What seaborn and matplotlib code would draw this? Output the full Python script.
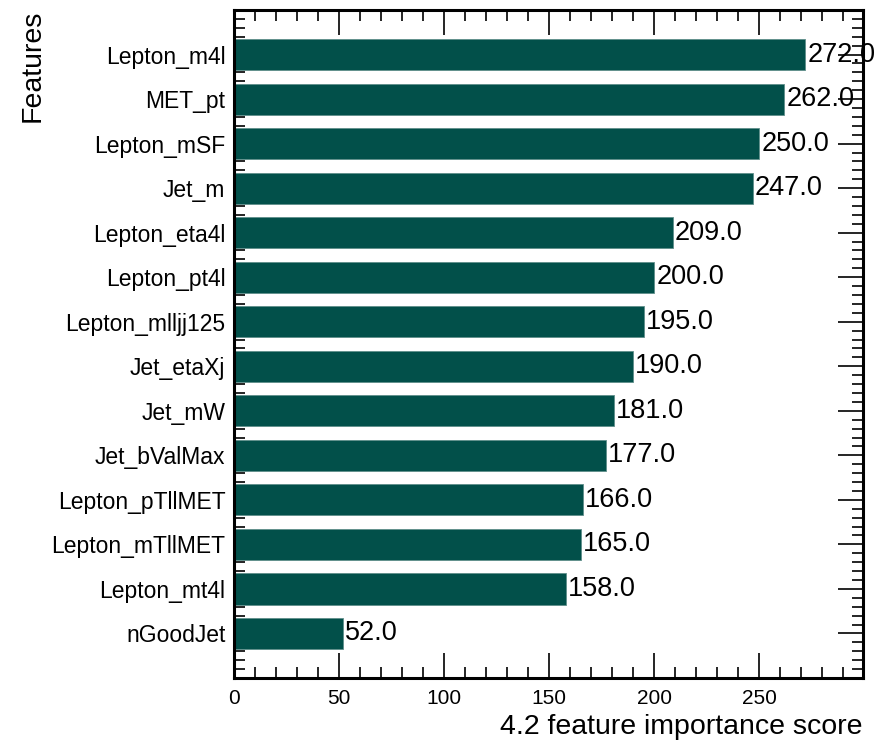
import matplotlib
matplotlib.use("Agg")
import matplotlib.pyplot as plt
from matplotlib.ticker import MultipleLocator
import seaborn as sns
import pandas as pd

features = ["Lepton_m4l", "MET_pt", "Lepton_mSF", "Jet_m", "Lepton_eta4l",
            "Lepton_pt4l", "Lepton_mlljj125", "Jet_etaXj", "Jet_mW", "Jet_bValMax",
            "Lepton_pTllMET", "Lepton_mTllMET", "Lepton_mt4l", "nGoodJet"]
scores = [272.0, 262.0, 250.0, 247.0, 209.0, 200.0, 195.0, 190.0, 181.0, 177.0,
          166.0, 165.0, 158.0, 52.0]

sns.set_style("ticks")
plt.rcParams["font.family"] = ["Liberation Sans", "DejaVu Sans"]
plt.rcParams.update({
    "text.color": "black", "axes.labelcolor": "black", "axes.edgecolor": "black",
    "xtick.color": "black", "ytick.color": "black",
})

df = pd.DataFrame({"feature": features, "score": scores})

fig = plt.figure(figsize=(8.82, 7.43), dpi=100)
ax = fig.add_axes([0.265, 0.0875, 0.713, 0.899])

sns.barplot(data=df, x="score", y="feature", orient="h", color="#02504a",
            saturation=1, width=0.7, edgecolor="#5f8f8a", linewidth=0.6, ax=ax)

for i, v in enumerate(scores):
    ax.text(v + 1, i, f"{v:.1f}", va="center", ha="left", fontsize=19.5)

ax.set_xlim(0, max(scores) * 1.1)
ax.set_ylim(len(features), -1)

ax.xaxis.set_major_locator(MultipleLocator(50))
ax.xaxis.set_minor_locator(MultipleLocator(10))
ax.yaxis.set_minor_locator(MultipleLocator(0.2))
ax.tick_params(which="both", direction="in", top=True, right=True, width=1.2)
ax.tick_params(which="major", length=18)
ax.tick_params(which="minor", length=8)
ax.tick_params(axis="x", which="major", pad=8, labelsize=15)
ax.tick_params(axis="y", which="major", pad=6, labelsize=16.5)
for s in ax.spines.values():
    s.set_linewidth(2.2)

ax.set_xlabel("4.2 feature importance score", fontsize=20.5, loc="right")
ax.set_ylabel("Features", fontsize=20.5, loc="top", labelpad=4)

fig.savefig("out.png", dpi=100)
